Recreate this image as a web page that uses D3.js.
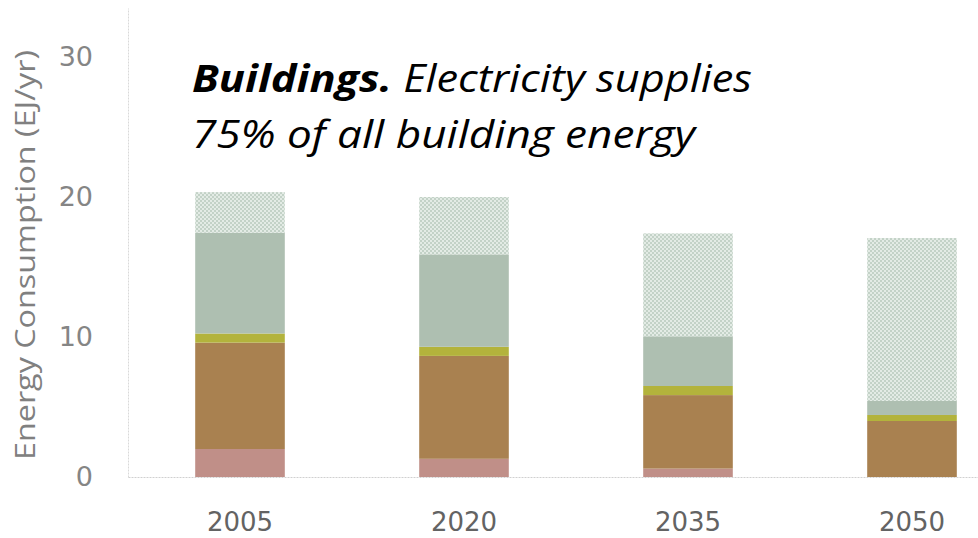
<!DOCTYPE html>
<html>
<head>
<meta charset="utf-8">
<script src="https://cdn.jsdelivr.net/npm/d3@7"></script>
<style>
  html, body { margin: 0; padding: 0; background: #fff; }
  svg { display: block; }
</style>
</head>
<body>
<svg id="chart"></svg>
<script>
// values, EJ/yr
const years = ["2005", "2020", "2035", "2050"];
const biomass = [2.0, 1.3, 0.6, 0.0];
const fossil = [7.6, 7.35, 5.25, 4.0];
const other = [0.65, 0.65, 0.65, 0.43];
const electricity = [7.2, 6.6, 3.55, 1.0];
const newElectricity = [2.9, 4.1, 7.35, 11.64];
const yTicks = [0, 10, 20, 30];

const keys = ["biomass", "fossil", "other", "electricity", "newElectricity"];
const colors = {
    biomass: "#c08f88",
    fossil: "#a98150",
    other: "#b3b33c",
    electricity: "#aebfb1",
    newElectricity: "url(#dots)"
};

const rows = years.map((y, i) => ({
    year: y,
    biomass: biomass[i],
    fossil: fossil[i],
    other: other[i],
    electricity: electricity[i],
    newElectricity: newElectricity[i]
}));

const width = 978;
const height = 538;
const left = 128;
const baseY = 477;

const svg = d3.select("#chart").attr("width", width).attr("height", height);

// dotted fill for the top layer
const pat = svg.append("defs").append("pattern")
    .attr("id", "dots")
    .attr("patternUnits", "userSpaceOnUse")
    .attr("width", 4).attr("height", 4);
pat.append("rect").attr("width", 4).attr("height", 4).attr("fill", "#e3ebe5");
pat.append("rect").attr("x", 0).attr("y", 0).attr("width", 2).attr("height", 2).attr("fill", "#c3d2c7");
pat.append("rect").attr("x", 2).attr("y", 2).attr("width", 2).attr("height", 2).attr("fill", "#c3d2c7");

const x = d3.scaleBand()
    .domain(years)
    .range([left, left + 896])
    .paddingInner(0.6)
    .paddingOuter(0.3);

const y = d3.scaleLinear()
    .domain([0, 33.5])
    .range([baseY, 8]);

const stacked = d3.stack().keys(keys)(rows);

svg.append("g").selectAll("g")
    .data(stacked)
    .enter().append("g")
    .attr("fill", d => colors[d.key])
    .selectAll("rect")
    .data(d => d)
    .enter().append("rect")
    .attr("x", d => x(d.data.year))
    .attr("width", x.bandwidth())
    .attr("y", d => y(d[1]))
    .attr("height", d => y(d[0]) - y(d[1]));

// y axis
const yAxis = svg.append("g")
    .attr("transform", "translate(" + left + ",0)")
    .call(d3.axisLeft(y).tickValues(yTicks).tickSize(0).tickPadding(35));
yAxis.select(".domain")
    .attr("stroke", "#d9d9d9")
    .attr("stroke-dasharray", "2,1");
yAxis.selectAll("text")
    .attr("fill", "#858585")
    .style("font-family", "DejaVu Sans")
    .style("font-size", "27px");

// x axis
const xAxis = svg.append("g")
    .attr("transform", "translate(0," + baseY + ")")
    .call(d3.axisBottom(x).tickSize(0).tickPadding(36));
xAxis.select(".domain")
    .attr("stroke", "#d0d0d0")
    .attr("stroke-dasharray", "2,1");
xAxis.selectAll("text")
    .attr("fill", "#636363")
    .style("font-family", "DejaVu Sans")
    .style("font-size", "26px");

// y title
svg.append("text")
    .attr("transform", "translate(35,255) rotate(-90)")
    .attr("text-anchor", "middle")
    .attr("fill", "#808080")
    .attr("textLength", 410)
    .attr("lengthAdjust", "spacingAndGlyphs")
    .style("font-family", "Open Sans")
    .style("font-weight", 400)
    .style("font-size", "28px")
    .text("Energy Consumption (EJ/yr)");

// annotation, stretched a bit wider like the source
const note = svg.append("text")
    .attr("x", 192)
    .attr("y", 92)
    .attr("textLength", 560)
    .attr("lengthAdjust", "spacingAndGlyphs")
    .style("font-family", "Open Sans")
    .style("font-style", "italic")
    .style("font-size", "38px")
    .attr("fill", "#000");
note.append("tspan").style("font-weight", 700).text("Buildings.");
note.append("tspan").text(" Electricity supplies");
svg.append("text")
    .attr("x", 192)
    .attr("y", 148)
    .attr("textLength", 503)
    .attr("lengthAdjust", "spacingAndGlyphs")
    .style("font-family", "Open Sans")
    .style("font-style", "italic")
    .style("font-size", "38px")
    .attr("fill", "#000")
    .text("75% of all building energy");
</script>
</body>
</html>
